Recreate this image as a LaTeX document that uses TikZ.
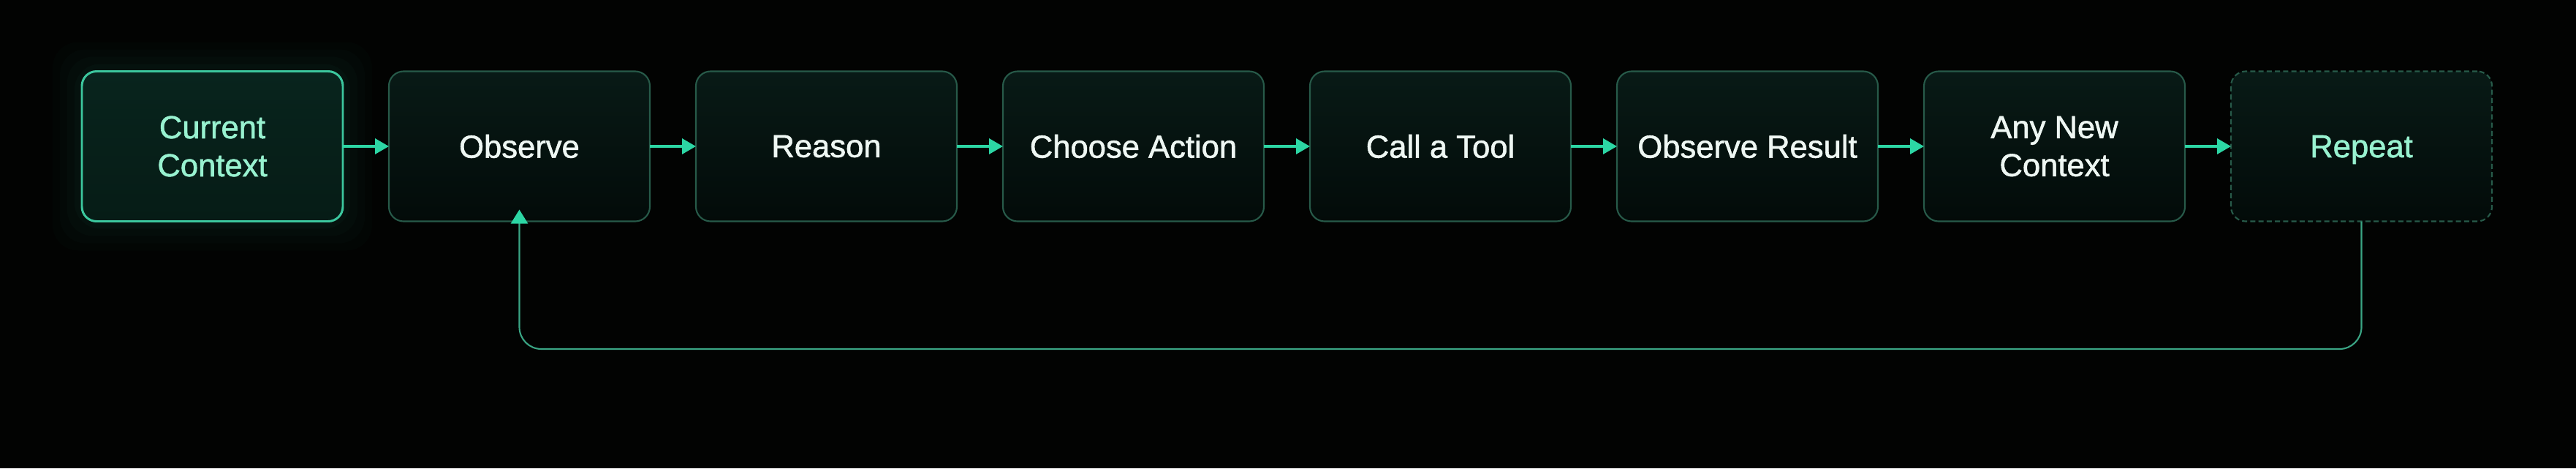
\documentclass[tikz,border=0pt]{standalone}
\usepackage{fontspec}
\setmainfont{Liberation Sans}[BoldFont=Liberation Sans, BoldFeatures={FakeBold=1.3}]
\usetikzlibrary{positioning,arrows.meta}

\definecolor{bgblack}{HTML}{020302}
\definecolor{boxtop}{HTML}{081A16}
\definecolor{boxbot}{HTML}{030B09}
\definecolor{boxedge}{HTML}{275A49}
\definecolor{hottop}{HTML}{08241D}
\definecolor{hotbot}{HTML}{061C16}
\definecolor{hotedge}{HTML}{3CC79E}
\definecolor{mint}{HTML}{98F2D0}
\definecolor{txtwhite}{HTML}{EEF7F3}
\definecolor{arrowgreen}{HTML}{2CD6A4}
\definecolor{loopgreen}{HTML}{3AA584}

\tikzset{
	stage/.style={rectangle, rounded corners=0.2cm, minimum width=3.57cm, minimum height=2.05cm,
		inner sep=0pt, outer sep=0pt, align=center, draw=boxedge, line width=0.6pt,
		top color=boxtop, bottom color=boxbot, text=txtwhite,
		font=\fontsize{12.4}{14.8}\selectfont\bfseries},
	startstage/.style={stage, draw=hotedge, line width=0.85pt, top color=hottop, bottom color=hotbot, text=mint},
	repeatstage/.style={stage, dash pattern=on 2pt off 1.2pt, text=mint, text depth=0pt},
	flow/.style={arrowgreen, line width=1pt, -{Triangle[length=0.19cm, width=0.21cm]}},
	back/.style={loopgreen, line width=0.6pt, rounded corners=0.3cm,
		-{Triangle[length=0.19cm, width=0.23cm, color=arrowgreen]}}
}

\begin{document}
\begin{tikzpicture}
		\useasboundingbox[fill=bgblack] (0,0) rectangle (35.24,6.4);
		
		%soft glow round the start box
		\foreach \g/\o in {0.4/0.015, 0.3/0.02, 0.2/0.025, 0.1/0.03}{
			\fill[hotedge, opacity=\o, rounded corners=0.35cm] (2.905-1.785-\g, 4.4-1.025-\g) rectangle (2.905+1.785+\g, 4.4+1.025+\g);
		}
		
		%stages
		\node[startstage] (ctx) at (2.905, 4.4) {Current\\Context};
		\node[stage, right=0.63cm of ctx] (obs) {Observe};
		\node[stage, right=0.63cm of obs] (rsn) {Reason};
		\node[stage, right=0.63cm of rsn] (act) {Choose Action};
		\node[stage, right=0.63cm of act] (tool) {Call a Tool};
		\node[stage, right=0.63cm of tool] (res) {Observe Result};
		\node[stage, right=0.63cm of res] (new) {Any New\\Context};
		\node[repeatstage, right=0.63cm of new] (rep) {Repeat};
		
		%forward arrows
		\foreach \a/\b in {ctx/obs, obs/rsn, rsn/act, act/tool, tool/res, res/new, new/rep}{
			\draw[flow] (\a) -- (\b);
		}
		
		%loop back
		\coordinate[above=0.16cm of obs.south] (loopend);
		\draw[back] (rep.south) -- ++(0,-1.745) -| (loopend);
\end{tikzpicture}
\end{document}
